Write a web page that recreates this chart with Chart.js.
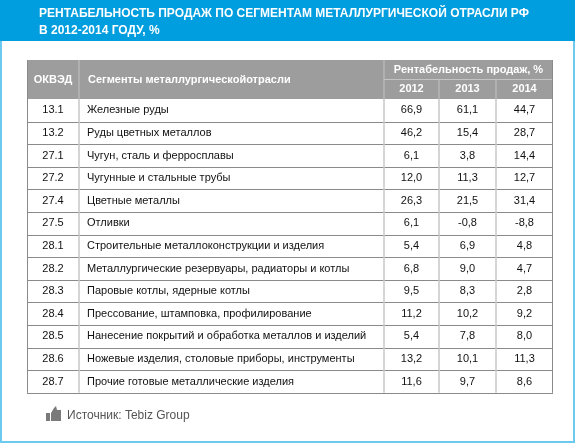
<!DOCTYPE html><html><head><meta charset="utf-8">
<script src="https://cdn.jsdelivr.net/npm/chart.js@4"></script>
<style>html,body{margin:0;padding:0;background:#fff}#w{width:575px;height:443px;position:relative}</style>
</head><body><div id="w"><canvas id="c" width="575" height="443"></canvas></div>
<script>
const codes=["13.1","13.2","27.1","27.2","27.4","27.5","28.1","28.2","28.3","28.4","28.5","28.6","28.7"];
const segments=["Железные руды","Руды цветных металлов","Чугун, сталь и ферросплавы","Чугунные и стальные трубы","Цветные металлы","Отливки","Строительные металлоконструкции и изделия","Металлургические резервуары, радиаторы и котлы","Паровые котлы, ядерные котлы","Прессование, штамповка, профилирование","Нанесение покрытий и обработка металлов и изделий","Ножевые изделия, столовые приборы, инструменты","Прочие готовые металлические изделия"];
const years=["2012","2013","2014"];
const v2012=[66.9,46.2,6.1,12.0,26.3,6.1,5.4,6.8,9.5,11.2,5.4,13.2,11.6];
const v2013=[61.1,15.4,3.8,11.3,21.5,-0.8,6.9,9.0,8.3,10.2,7.8,10.1,9.7];
const v2014=[44.7,28.7,14.4,12.7,31.4,-8.8,4.8,4.7,2.8,9.2,8.0,11.3,8.6];
const series=[v2012,v2013,v2014];
const fmt=v=>v.toFixed(1).replace('.',',');
const tablePlugin={id:'table',afterDraw(ch){
 const g=ch.ctx; g.save();
 g.fillStyle='#6ccaf0';g.fillRect(0,0,575,443);
 g.fillStyle='#fff';g.fillRect(2,0,571,441);
 g.fillStyle='#009ddf';g.fillRect(0,0,575,41);
 g.fillStyle='#fff';g.font='bold 12px "Liberation Sans"';g.textBaseline='middle';
 g.fillText('РЕНТАБЕЛЬНОСТЬ ПРОДАЖ ПО СЕГМЕНТАМ МЕТАЛЛУРГИЧЕСКОЙ ОТРАСЛИ РФ',39,14);
 g.fillText('В 2012-2014 ГОДУ, %',39,31);
 const xs=[27,79,384,439,496,553];
 const top=60,mid=79,hb=99,rh=22.6;
 g.fillStyle='#9d9d9d';g.fillRect(xs[0],top,xs[5]-xs[0],hb-top);
 g.strokeStyle='#c4c4c4';g.lineWidth=1;
 g.beginPath();g.moveTo(xs[2],mid+0.5);g.lineTo(xs[5],mid+0.5);
 [1,2].forEach(i=>{g.moveTo(xs[i],top);g.lineTo(xs[i],hb);});
 [3,4].forEach(i=>{g.moveTo(xs[i],mid);g.lineTo(xs[i],hb);});g.stroke();
 g.fillStyle='#fff';g.font='bold 11px "Liberation Sans"';g.textAlign='center';
 g.fillText('ОКВЭД',(xs[0]+xs[1])/2,(top+hb)/2);
 g.fillText('Рентабельность продаж, %',(xs[2]+xs[5])/2,(top+mid)/2);
 years.forEach((y,i)=>g.fillText(y,(xs[i+2]+xs[i+3])/2,(mid+hb)/2));
 g.textAlign='left';g.fillText('Сегменты металлургическойотрасли',xs[1]+9,(top+hb)/2);
 g.font='11px "Liberation Sans"';g.fillStyle='#111';
 codes.forEach((c,r)=>{const cy=hb+rh*r+rh/2;
  g.textAlign='center';g.fillText(c,(xs[0]+xs[1])/2,cy);
  series.forEach((s,i)=>g.fillText(fmt(s[r]),(xs[i+2]+xs[i+3])/2,cy));
  g.textAlign='left';g.fillText(segments[r],xs[1]+8,cy);
 });
 const bot=hb+rh*codes.length;
 g.strokeStyle='#8a8a8a';g.lineWidth=1;g.beginPath();
 for(let r=1;r<=codes.length;r++){const y=Math.round(hb+rh*r)+0.5;g.moveTo(xs[0],y);g.lineTo(xs[5],y);}
 g.moveTo(xs[0]+0.5,top);g.lineTo(xs[0]+0.5,bot);g.moveTo(xs[5]-0.5,top);g.lineTo(xs[5]-0.5,bot);g.stroke();
 g.strokeStyle='#c8c8c8';g.lineWidth=1.5;g.beginPath();
 for(let i=1;i<5;i++){g.moveTo(xs[i],hb);g.lineTo(xs[i],bot);}g.stroke();
 g.fillStyle='#7a7a7a';g.fillRect(46,413,4,8);
 g.beginPath();g.moveTo(51,413);g.lineTo(54,408);g.lineTo(56,406);g.lineTo(57,410);g.lineTo(61,410);g.lineTo(61,421);g.lineTo(51,421);g.closePath();g.fill();
 g.fillStyle='#555';g.font='12px "Liberation Sans"';g.textAlign='left';
 g.fillText('Источник: Tebiz Group',67,416);
 g.restore();}};
new Chart(document.getElementById('c'),{type:'bar',data:{labels:codes,datasets:[{data:v2012,hidden:true}]},
options:{responsive:false,animation:false,plugins:{legend:{display:false},tooltip:{enabled:false}},scales:{x:{display:false},y:{display:false}}},plugins:[tablePlugin]});
</script></body></html>
